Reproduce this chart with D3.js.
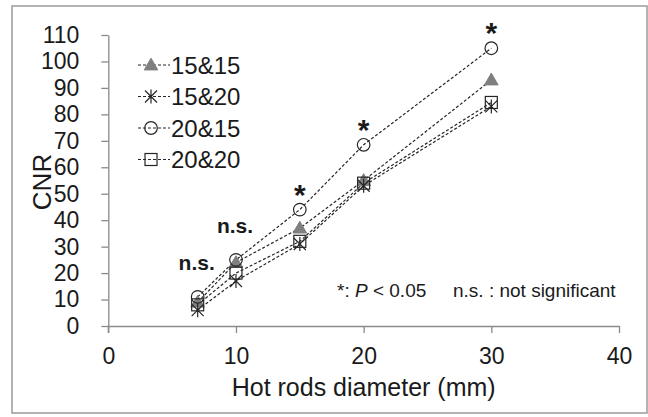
<!DOCTYPE html>
<html><head><meta charset="utf-8">
<script src="https://cdn.jsdelivr.net/npm/d3@7"></script>
<style>
html,body{margin:0;padding:0;background:#fff;}
svg{display:block;font-family:"Liberation Sans",Arial,sans-serif;}
</style></head>
<body><svg id="c" width="648" height="417"></svg>
<script>
const xValues = [7, 10, 15, 20, 30];
const seriesNames = ["15&15", "15&20", "20&15", "20&20"];
const seriesMarkers = ["triangle", "star", "circle", "square"];
const s1515 = [9, 24, 37, 55, 93];
const s1520 = [6, 17, 31, 53, 83];
const s2015 = [11, 25, 44, 68.5, 105];
const s2020 = [8, 20, 32, 54, 84.5];
const sigLabels = ["n.s.", "n.s.", "*", "*", "*"];
const xTicks = [0, 10, 20, 30, 40];
const yTicks = [0,10,20,30,40,50,60,70,80,90,100,110];
const xTitle = "Hot rods diameter (mm)";
const yTitle = "CNR";

const seriesData = [s1515, s1520, s2015, s2020];
const svg = d3.select("#c");
const axisColor = "#8a8a8a";
const lineColor = "#262626";

svg.append("rect").attr("x",12).attr("y",6).attr("width",635).attr("height",407)
  .attr("fill","#fff").attr("stroke","#9a9a9a").attr("stroke-width",1.5);

const x = d3.scaleLinear().domain([0,40]).range([108.3,619]);
const y = d3.scaleLinear().domain([0,110]).range([326,35]);

const gx = svg.append("g").attr("transform",`translate(0,${y(0)})`)
  .call(d3.axisBottom(x).tickValues(xTicks).tickSize(7).tickPadding(15).tickSizeOuter(0));
const gy = svg.append("g").attr("transform",`translate(${x(0)},0)`)
  .call(d3.axisLeft(y).tickValues(yTicks).tickSize(7).tickPadding(22).tickSizeOuter(0));
[gx,gy].forEach(g=>{
  g.select(".domain").attr("stroke",axisColor).attr("stroke-width",1.3);
  g.selectAll(".tick line").attr("stroke",axisColor).attr("stroke-width",1.3);
  g.selectAll(".tick text").attr("fill","#1a1a1a").attr("font-size",23)
   .attr("font-family","'Liberation Sans',Arial,sans-serif");
});
svg.append("line").attr("x1",x(0)).attr("x2",x(0)).attr("y1",y(0)).attr("y2",y(0)+7)
  .attr("stroke",axisColor).attr("stroke-width",1.3);

svg.append("text").attr("x",(x(0)+x(40))/2).attr("y",396).attr("text-anchor","middle")
  .attr("font-size",25).attr("fill","#1a1a1a").text(xTitle);
svg.append("text").attr("transform","translate(51,182) rotate(-90)").attr("text-anchor","middle")
  .attr("font-size",26).attr("fill","#1a1a1a").text(yTitle);

function drawMarker(g, type, cx, cy){
  if(type==="triangle"){
    g.append("path").attr("d",d3.symbol().type(d3.symbolTriangle).size(80)())
      .attr("transform",`translate(${cx},${cy+1})`).attr("fill","#7f7f7f").attr("stroke","#7f7f7f");
  } else if(type==="circle"){
    g.append("circle").attr("cx",cx).attr("cy",cy).attr("r",6.3)
      .attr("fill","none").attr("stroke",lineColor).attr("stroke-width",1.2);
  } else if(type==="square"){
    g.append("rect").attr("x",cx-6).attr("y",cy-6).attr("width",12).attr("height",12)
      .attr("fill","none").attr("stroke",lineColor).attr("stroke-width",1.2);
  } else if(type==="star"){
    const r=6;
    g.append("path").attr("d",`M${cx-r},${cy-r}L${cx+r},${cy+r}M${cx-r},${cy+r}L${cx+r},${cy-r}M${cx},${cy-r-1}L${cx},${cy+r+1}`)
      .attr("stroke",lineColor).attr("stroke-width",1.2).attr("fill","none");
  }
}

const line = d3.line().x((d,i)=>x(xValues[i])).y(d=>y(d));
seriesData.forEach((vals)=>{
  svg.append("path").datum(vals).attr("d",line).attr("fill","none")
    .attr("stroke",lineColor).attr("stroke-width",1.2).attr("stroke-dasharray","3,2");
});
seriesData.forEach((vals,si)=>{
  const g = svg.append("g");
  vals.forEach((v,i)=>drawMarker(g, seriesMarkers[si], x(xValues[i]), y(v)));
});

xValues.forEach((xv,i)=>{
  const top = d3.max(seriesData, s=>s[i]);
  const lab = sigLabels[i];
  if(lab==="*"){
    const cy = y(top) - 22;
    svg.append("text").attr("x",x(xv)).attr("y",cy+17).attr("text-anchor","middle")
      .attr("font-size",30).attr("font-weight","bold").attr("fill","#1a1a1a").text(lab);
  } else {
    const cy = y(top) - 33;
    svg.append("text").attr("x",x(xv)-1).attr("y",cy+6).attr("text-anchor","middle")
      .attr("font-size",21).attr("font-weight","bold").attr("fill","#1a1a1a").text(lab);
  }
});

const leg = svg.append("g");
seriesNames.forEach((nm,i)=>{
  const cy = 65 + i*31.5;
  leg.append("line").attr("x1",138).attr("x2",170).attr("y1",cy).attr("y2",cy)
    .attr("stroke",lineColor).attr("stroke-width",1.1).attr("stroke-dasharray","3,2");
  drawMarker(leg, seriesMarkers[i], 151, cy);
  leg.append("text").attr("x",171).attr("y",cy+8.5).attr("font-size",24)
    .attr("fill","#1a1a1a").text(nm);
});

const note = svg.append("text").attr("x",337).attr("y",297).attr("font-size",19).attr("fill","#1a1a1a");
note.append("tspan").text("*: ");
note.append("tspan").attr("font-style","italic").text("P");
note.append("tspan").text(" < 0.05");
svg.append("text").attr("x",453).attr("y",297).attr("font-size",19).attr("fill","#1a1a1a")
  .text("n.s. : not significant");
</script></body></html>
